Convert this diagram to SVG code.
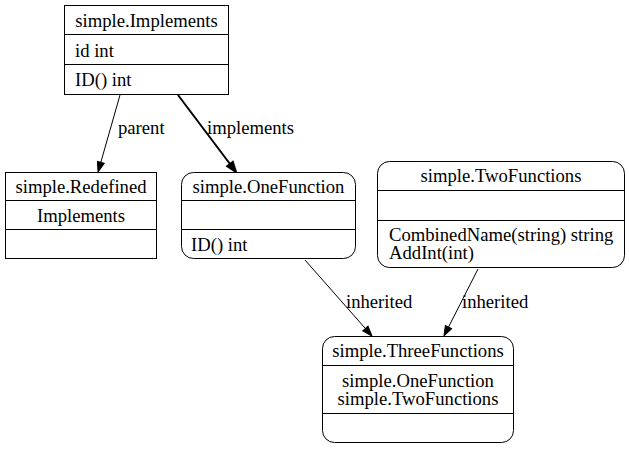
<svg xmlns="http://www.w3.org/2000/svg" width="629" height="449" viewBox="0 0 629 449" font-family="'Liberation Serif', 'DejaVu Serif', serif" font-size="18.67">
<style>
text{font-family:'Liberation Serif','Times New Roman',serif;font-size:18.67px;fill:#000}
.c{text-anchor:middle}
.n{fill:#fff;stroke:#000;stroke-width:1}
.d{stroke:#000;stroke-width:1}
.e{fill:none;stroke:#000;stroke-width:1}
.b{fill:none;stroke:#000;stroke-width:2}
</style>
<defs>
<marker id="a" viewBox="0 0 10 7" refX="0" refY="3.5" markerWidth="10" markerHeight="7" markerUnits="userSpaceOnUse" orient="auto" overflow="visible">
<path d="M0,0 L10,3.5 L0,7 Z" fill="#000" stroke="#000" stroke-width="1"/>
</marker>
<marker id="ab" viewBox="0 0 10 7" refX="0" refY="3.5" markerWidth="10" markerHeight="7" markerUnits="userSpaceOnUse" orient="auto" overflow="visible">
<path d="M0,0 L10,3.5 L0,7 Z" fill="#000" stroke="#000" stroke-width="2"/>
</marker>
</defs>
<rect width="629" height="449" fill="#fff"/>
<g id="edges">
<path class="e" d="M120,95 L100.8,162.4" marker-end="url(#a)"/>
<text x="118" y="134">parent</text>
<path class="b" d="M178,95 L230,164" marker-end="url(#ab)"/>
<text x="207" y="134">implements</text>
<path class="e" d="M305,260 L365.4,328.5" marker-end="url(#a)"/>
<text x="346" y="308">inherited</text>
<path class="e" d="M478,269 L448.5,327.1" marker-end="url(#a)"/>
<text x="462" y="308">inherited</text>
</g>
<g id="simple.Implements">
<rect class="n" x="64.5" y="5.5" width="164" height="89"/>
<line class="d" x1="64.5" y1="34.5" x2="228.5" y2="34.5"/>
<line class="d" x1="64.5" y1="64.5" x2="228.5" y2="64.5"/>
<text class="c" x="146.5" y="27">simple.Implements</text>
<text x="75" y="57">id int</text>
<text x="75" y="86">ID() int</text>
</g>
<g id="simple.Redefined">
<rect class="n" x="5.5" y="172.5" width="151" height="86"/>
<line class="d" x1="5.5" y1="200.5" x2="156.5" y2="200.5"/>
<line class="d" x1="5.5" y1="229.5" x2="156.5" y2="229.5"/>
<text class="c" x="81" y="193">simple.Redefined</text>
<text class="c" x="81" y="222">Implements</text>
</g>
<g id="simple.OneFunction">
<rect class="n" x="181.5" y="172.5" width="174" height="86" rx="12"/>
<line class="d" x1="181.5" y1="200.5" x2="355.5" y2="200.5"/>
<line class="d" x1="181.5" y1="229.5" x2="355.5" y2="229.5"/>
<text class="c" x="268.5" y="193">simple.OneFunction</text>
<text x="191" y="251">ID() int</text>
</g>
<g id="simple.TwoFunctions">
<rect class="n" x="377.5" y="161.5" width="247" height="106" rx="12"/>
<line class="d" x1="377.5" y1="190.5" x2="624.5" y2="190.5"/>
<line class="d" x1="377.5" y1="220.5" x2="624.5" y2="220.5"/>
<text class="c" x="501" y="182">simple.TwoFunctions</text>
<text x="389" y="241">CombinedName(string) string</text>
<text x="389" y="259">AddInt(int)</text>
</g>
<g id="simple.ThreeFunctions">
<rect class="n" x="322.5" y="336.5" width="191" height="106" rx="12"/>
<line class="d" x1="322.5" y1="365.5" x2="513.5" y2="365.5"/>
<line class="d" x1="322.5" y1="413.5" x2="513.5" y2="413.5"/>
<text class="c" x="418" y="357">simple.ThreeFunctions</text>
<text class="c" x="418" y="387">simple.OneFunction</text>
<text class="c" x="418" y="405">simple.TwoFunctions</text>
</g>
</svg>
